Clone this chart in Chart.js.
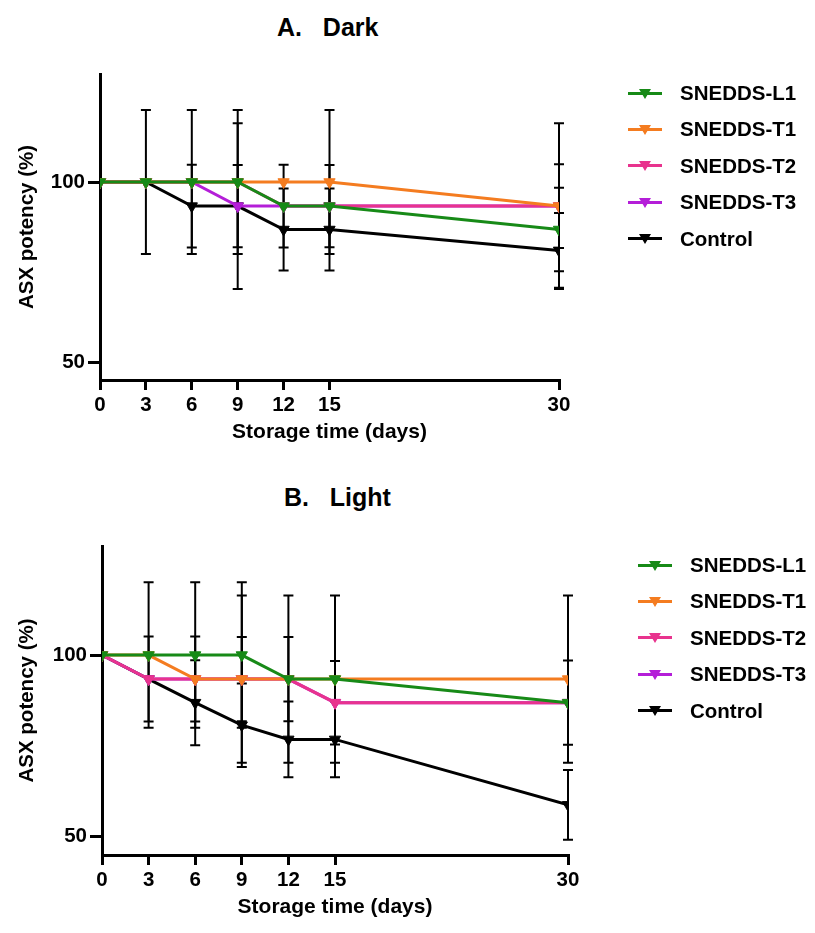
<!DOCTYPE html>
<html><head><meta charset="utf-8">
<script src="https://cdn.jsdelivr.net/npm/chart.js@4.4.1/dist/chart.umd.min.js"></script>
<style>
html,body{margin:0;padding:0;background:#fff;}
body{width:815px;height:933px;position:relative;overflow:hidden;font-family:'Liberation Sans',Arial,sans-serif;color:#000;}
canvas{position:absolute;left:0;}
.title{position:absolute;font-weight:bold;font-size:25px;line-height:28px;white-space:pre;transform:translateY(-50%);}
.row{position:absolute;display:flex;align-items:center;height:24px;transform:translateY(-50%);font-weight:bold;font-size:20.5px;white-space:nowrap;}
.icon{position:relative;width:34px;height:3px;margin-right:18px;}
.tri{position:absolute;left:11px;top:-3px;width:0;height:0;border-left:6px solid transparent;border-right:6px solid transparent;border-top:10px solid;}
</style>
</head><body>
<div class="title" style="left:277px;top:27px;">A.   Dark</div>
<div class="title" style="left:284px;top:497px;">B.   Light</div>
<canvas id="chartA" width="660" height="470" style="top:0px;"></canvas>
<canvas id="chartB" width="670" height="470" style="top:470px;"></canvas>
<div id="legendA"></div>
<div id="legendB"></div>
<script>
const FONT = "'Liberation Sans', Arial, sans-serif";
const days = [0, 3, 6, 9, 12, 15, 30];
const xTicks = [0, 3, 6, 9, 12, 15, 30];
const yTicks = [50, 100];
const seriesNames = ['SNEDDS-L1', 'SNEDDS-T1', 'SNEDDS-T2', 'SNEDDS-T3', 'Control'];
const seriesColors = ['#178a17', '#f47c20', '#e8338e', '#b41ed8', '#000000'];

// A. Dark
const darkL1 = [100, 100, 100, 100, 93.3, 93.3, 86.8];
const darkT1 = [100, 100, 100, 100, 100, 100, 93.3];
const darkT2 = [100, 100, 100, 100, 93.3, 93.3, 93.3];
const darkT3 = [100, 100, 100, 93.3, 93.3, 93.3, 93.3];
const darkControl = [100, 100, 93.3, 93.3, 86.8, 86.8, 81];
const darkL1Err = [null, null, 20, 20, 11.5, 11.4, 11.6];
const darkT1Err = [null, null, null, null, null, 20, 11.6];
const darkT2Err = [null, null, null, null, null, null, 23];
const darkT3Err = [null, null, null, 23, null, null, null];
const darkControlErr = [null, 20, 11.5, 11.4, 11.4, 11.4, 10.4];

// B. Light
const lightL1 = [100, 100, 100, 100, 93.4, 93.4, 86.9];
const lightT1 = [100, 100, 93.4, 93.4, 93.4, 93.4, 93.4];
const lightT2 = [100, 93.4, 93.4, 93.4, 93.4, 86.9, 86.9];
const lightT3 = [100, 93.4, 93.4, 93.4, 93.4, 86.9, 86.9];
const lightControl = [100, 93.4, 86.9, 80.7, 76.8, 76.8, 58.8];
const lightL1Err = [null, 20, 20, 20, 11.6, null, 11.6];
const lightT1Err = [null, null, null, 23, 23, 23, 23];
const lightT2Err = [null, null, 11.7, 11.6, null, 11.5, null];
const lightT3Err = [null, null, null, null, null, null, null];
const lightControlErr = [null, 11.7, 11.7, 11.5, 10.4, 10.4, 9.6];

const errorBarPlugin = {
  id: 'errorBars',
  beforeDatasetsDraw(chart) {
    const ctx = chart.ctx, xs = chart.scales.x, ys = chart.scales.y;
    ctx.save();
    ctx.strokeStyle = '#000';
    ctx.lineWidth = 2;
    chart.data.datasets.forEach(ds => {
      const errs = ds.errors;
      if (!errs) return;
      ds.data.forEach((p, i) => {
        const e = errs[i];
        if (e == null) return;
        const px = xs.getPixelForValue(p.x);
        const yt = ys.getPixelForValue(p.y + e);
        const yb = ys.getPixelForValue(p.y - e);
        ctx.beginPath();
        ctx.moveTo(px, yt); ctx.lineTo(px, yb);
        ctx.moveTo(px - 5, yt); ctx.lineTo(px + 5, yt);
        ctx.moveTo(px - 5, yb); ctx.lineTo(px + 5, yb);
        ctx.stroke();
      });
    });
    ctx.restore();
  }
};

function makeChart(id, geo, values, errs) {
  const font = {family: FONT, size: 20.5, weight: 'bold'};
  const tfont = {family: FONT, size: 21, weight: 'bold'};
  new Chart(document.getElementById(id), {
    type: 'line',
    data: {
      datasets: values.map((vals, k) => ({
        label: seriesNames[k],
        data: days.map((d, i) => ({x: d, y: vals[i]})),
        errors: errs[k],
        borderColor: seriesColors[k],
        backgroundColor: seriesColors[k],
        borderWidth: 3,
        pointStyle: 'triangle',
        pointRotation: 180,
        pointRadius: 6.5,
        pointBorderWidth: 1,
        tension: 0,
        fill: false
      }))
    },
    options: {
      responsive: false,
      animation: false,
      devicePixelRatio: 1,
      layout: {padding: {top: geo.top, right: geo.right, left: 0, bottom: 0}},
      plugins: {legend: {display: false}, tooltip: {enabled: false}},
      scales: {
        x: {
          type: 'linear', min: 0, max: 30,
          afterFit(s) { s.height = geo.xh; },
          afterBuildTicks(s) { s.ticks = xTicks.map(v => ({value: v})); },
          grid: {drawOnChartArea: false, drawTicks: true, tickLength: 10, lineWidth: 3, color: '#000'},
          border: {display: true, width: 3, color: '#000'},
          ticks: {color: '#000', font: font, padding: 3, maxRotation: 0, autoSkip: false},
          title: {display: true, text: 'Storage time (days)', color: '#000', font: tfont, padding: {top: 0, bottom: geo.xtp}}
        },
        y: {
          type: 'linear', min: 45, max: 130,
          afterFit(s) { s.width = geo.left; },
          afterBuildTicks(s) { s.ticks = yTicks.map(v => ({value: v})); },
          grid: {drawOnChartArea: false, drawTicks: true, tickLength: 12, lineWidth: 3, color: '#000'},
          border: {display: true, width: 3, color: '#000'},
          ticks: {color: '#000', font: font, padding: 3},
          title: {display: true, text: 'ASX potency (%)', color: '#000', font: font, padding: {top: 15, bottom: 0}}
        }
      }
    },
    plugins: [errorBarPlugin]
  });
}

makeChart('chartA', {top: 74, right: 101, left: 100, xh: 90, xtp: 25},
  [darkL1, darkT1, darkT2, darkT3, darkControl],
  [darkL1Err, darkT1Err, darkT2Err, darkT3Err, darkControlErr]);
makeChart('chartB', {top: 76, right: 102, left: 102, xh: 85, xtp: 20},
  [lightL1, lightT1, lightT2, lightT3, lightControl],
  [lightL1Err, lightT1Err, lightT2Err, lightT3Err, lightControlErr]);

function makeLegend(id, left, top0, step) {
  const el = document.getElementById(id);
  seriesNames.forEach((n, k) => {
    const row = document.createElement('div');
    row.className = 'row';
    row.style.left = left + 'px';
    row.style.top = (top0 + k * step) + 'px';
    row.innerHTML = '<div class="icon" style="background:' + seriesColors[k] + '"><div class="tri" style="border-top-color:' + seriesColors[k] + '"></div></div><span>' + n + '</span>';
    el.appendChild(row);
  });
}
makeLegend('legendA', 628, 93, 36.4);
makeLegend('legendB', 638, 565, 36.4);
</script>
</body></html>
